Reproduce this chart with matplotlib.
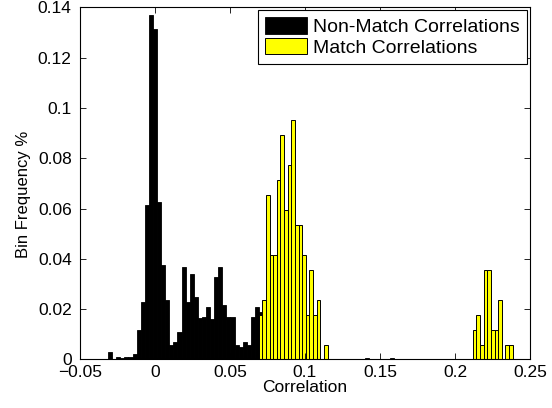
import numpy as np
import matplotlib
matplotlib.use("Agg")
import matplotlib.pyplot as plt
from matplotlib.ticker import FuncFormatter

plt.rcParams["font.family"] = ["Liberation Sans", "DejaVu Sans"]
plt.rcParams["font.size"] = 12.5

# ---------------------------------------------------------------------------
# Histogram data (bin frequency per bin)
# ---------------------------------------------------------------------------
nonmatch_start = -0.0313        # left edge of first non-match bin
nonmatch_width = 0.00272
nonmatch_freq = [
    0.0028, 0.0, 0.0008, 0.0004, 0.0008, 0.0010, 0.0020, 0.0117, 0.0227, 0.0614,
    0.1370, 0.1313, 0.0625, 0.0377, 0.0237, 0.0057, 0.0070, 0.0110, 0.0367, 0.0229,
    0.0338, 0.0249, 0.0163, 0.0170, 0.0207, 0.0160, 0.0326, 0.0368, 0.0216, 0.0167,
    0.0167, 0.0057, 0.0048, 0.0068, 0.0057, 0.0170, 0.0207, 0.0190, 0.0, 0.0,
    0.0, 0.0, 0.0, 0.0, 0.0, 0.0, 0.0, 0.0, 0.0, 0.0,
    0.0, 0.0, 0.0, 0.0, 0.0, 0.0, 0.0, 0.0, 0.0, 0.0,
    0.0, 0.0, 0.0, 0.0004, 0.0, 0.0, 0.0, 0.0, 0.0, 0.0004,
]

match_start = 0.0691            # left edge of first match bin
match_width = 0.00242
match_freq = [
    0.0175, 0.0236, 0.0654, 0.0415, 0.0415, 0.0713, 0.0893, 0.0594, 0.0773, 0.0952,
    0.0534, 0.0534, 0.0415, 0.0176, 0.0355, 0.0176, 0.0236, 0.0, 0.0057, 0.0,
    0.0, 0.0, 0.0, 0.0, 0.0, 0.0, 0.0, 0.0, 0.0, 0.0,
    0.0, 0.0, 0.0, 0.0, 0.0, 0.0, 0.0, 0.0, 0.0, 0.0,
    0.0, 0.0, 0.0, 0.0, 0.0, 0.0, 0.0, 0.0, 0.0, 0.0,
    0.0, 0.0, 0.0, 0.0, 0.0, 0.0, 0.0, 0.0, 0.0, 0.0117,
    0.0176, 0.0057, 0.0355, 0.0355, 0.0117, 0.0117, 0.0236, 0.0, 0.0057, 0.0057,
]

x_ticks = [-0.05, 0, 0.05, 0.1, 0.15, 0.2, 0.25]
y_ticks = [0, 0.02, 0.04, 0.06, 0.08, 0.1, 0.12, 0.14]

nonmatch_edges = nonmatch_start + nonmatch_width * np.arange(len(nonmatch_freq))
match_edges = match_start + match_width * np.arange(len(match_freq))

# ---------------------------------------------------------------------------
# Plot
# ---------------------------------------------------------------------------
fig = plt.figure(figsize=(5.52, 4.08), dpi=100)
ax = fig.add_axes([0.145, 0.119, 0.815, 0.863])

ax.bar(nonmatch_edges, nonmatch_freq, width=nonmatch_width, align="edge",
       color="black", edgecolor="black", linewidth=0.6,
       label="Non-Match Correlations")
ax.bar(match_edges, match_freq, width=match_width, align="edge",
       color="#ffff00", edgecolor="black", linewidth=0.7,
       label="Match Correlations")

ax.set_xlim(-0.05, 0.25)
ax.set_ylim(0, 0.14)
ax.set_xticks(x_ticks)
ax.set_yticks(y_ticks)
fmt = FuncFormatter(lambda v, pos: ("%g" % v).replace("-", "\u2212"))
ax.xaxis.set_major_formatter(fmt)
ax.yaxis.set_major_formatter(fmt)
ax.tick_params(axis="both", direction="in", top=True, right=True,
               length=4, width=0.6)
ax.tick_params(axis="y", pad=6)
ax.tick_params(axis="x", pad=4)
for s in ax.spines.values():
    s.set_linewidth(0.8)

ax.set_xlabel("Correlation", labelpad=0)
ax.set_ylabel("Bin Frequency %", fontsize=12)
ax.yaxis.set_label_coords(-0.108, 0.47)

leg = ax.legend(loc="upper right", fancybox=False, framealpha=1,
                edgecolor="black", handlelength=2.15, handleheight=0.93,
                borderaxespad=0.15, borderpad=0.35, labelspacing=0.1,
                handletextpad=0.35, fontsize=14)
leg.get_frame().set_linewidth(0.8)

fig.savefig("out.png", dpi=100)
